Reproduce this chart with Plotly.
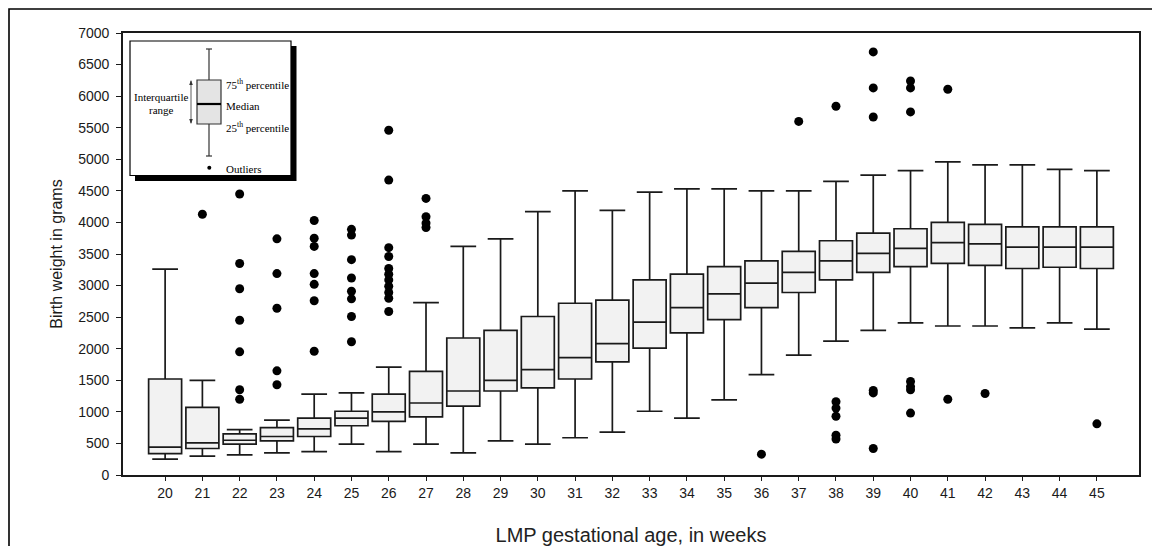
import plotly.graph_objects as go

# ---------------- data ----------------
weeks = list(range(20, 46))
lower_fence = [250, 300, 320, 350, 370, 490, 370, 490, 350, 540, 490, 590, 680,
               1010, 900, 1190, 1590, 1900, 2120, 2290, 2410, 2360, 2360, 2330, 2410, 2310]
q1 = [340, 420, 490, 540, 610, 780, 850, 920, 1090, 1330, 1380, 1520, 1790,
      2010, 2250, 2460, 2650, 2890, 3090, 3210, 3300, 3350, 3320, 3270, 3290, 3270]
median = [440, 510, 550, 610, 730, 900, 1000, 1140, 1330, 1500, 1670, 1860, 2080,
          2420, 2650, 2870, 3040, 3210, 3390, 3510, 3590, 3680, 3660, 3610, 3610, 3610]
q3 = [1520, 1070, 650, 750, 900, 1010, 1280, 1640, 2170, 2290, 2510, 2720, 2770,
      3090, 3180, 3300, 3390, 3540, 3710, 3830, 3900, 4000, 3970, 3930, 3930, 3930]
upper_fence = [3260, 1500, 720, 870, 1280, 1300, 1710, 2730, 3620, 3740, 4170, 4500, 4190,
               4480, 4530, 4530, 4500, 4500, 4650, 4750, 4820, 4960, 4910, 4910, 4840, 4820]

outlier_week = (
    [21]
    + [22] * 7
    + [23] * 5
    + [24] * 7
    + [25] * 8
    + [26] * 11
    + [27] * 4
    + [36, 37]
    + [38] * 6
    + [39] * 6
    + [40] * 7
    + [41] * 2
    + [42, 45]
)
outlier_weight = (
    [4130]
    + [4450, 3350, 2950, 2450, 1950, 1350, 1200]
    + [3740, 3190, 2640, 1650, 1430]
    + [4030, 3750, 3620, 3190, 3020, 2760, 1960]
    + [3890, 3800, 3410, 3120, 2910, 2790, 2510, 2110]
    + [5460, 4670, 3600, 3460, 3270, 3180, 3090, 2990, 2890, 2800, 2590]
    + [4380, 4090, 3990, 3920]
    + [330, 5600]
    + [5840, 1160, 1060, 930, 630, 570]
    + [6700, 6130, 5670, 1340, 1300, 420]
    + [6240, 6130, 5750, 1480, 1400, 1350, 980]
    + [6110, 1200]
    + [1290, 810]
)

y_ticks = list(range(0, 7001, 500))

# ---------------- layout geometry (window pixels) ----------------
WIN_W, WIN_H = 1160, 546
OFF = 8                      # default page body margin
W, H = WIN_W - OFF, WIN_H - OFF
L, R, T, B = 123, 1139, 33, 475   # plot area in window pixels
PW, PH = R - L, B - T


def xp(px):
    return (px - L) / PW


def yp(py):
    return (B - py) / PH


SANS = "Arial, Liberation Sans, sans-serif"
SERIF = "Times New Roman, Liberation Serif, serif"
INK = "#1a1a1a"

fig = go.Figure()

fig.add_trace(go.Box(
    x=weeks,
    q1=q1,
    median=median,
    q3=q3,
    lowerfence=lower_fence,
    upperfence=upper_fence,
    boxpoints=False,
    width=0.885,
    whiskerwidth=0.78,
    fillcolor="#f2f2f2",
    line=dict(color=INK, width=1.7),
    showlegend=False,
    hoverinfo="skip",
))

fig.add_trace(go.Scatter(
    x=outlier_week,
    y=outlier_weight,
    mode="markers",
    marker=dict(symbol="circle", size=9, color="black", line=dict(width=0)),
    showlegend=False,
    hoverinfo="skip",
))

shapes = []
# outer frame of the figure (right/bottom edges lie outside the view)
shapes.append(dict(type="rect", xref="paper", yref="paper",
                   x0=xp(9), x1=xp(1175), y0=yp(560), y1=yp(9),
                   line=dict(color="black", width=1.6), fillcolor="rgba(0,0,0,0)", layer="above"))
# inset key: shadow and frame
shapes.append(dict(type="rect", xref="paper", yref="paper",
                   x0=xp(135), x1=xp(296.5), y0=yp(181), y1=yp(46),
                   line=dict(width=0), fillcolor="black", layer="above"))
shapes.append(dict(type="rect", xref="paper", yref="paper",
                   x0=xp(130), x1=xp(291), y0=yp(175.5), y1=yp(41),
                   line=dict(color="black", width=1.2), fillcolor="white", layer="above"))
# inset key: whisker, caps, box, median
shapes.append(dict(type="line", xref="paper", yref="paper",
                   x0=xp(209), x1=xp(209), y0=yp(156), y1=yp(49),
                   line=dict(color="#333", width=1.2), layer="above"))
for cy in (49, 156):
    shapes.append(dict(type="line", xref="paper", yref="paper",
                       x0=xp(206), x1=xp(212), y0=yp(cy), y1=yp(cy),
                       line=dict(color="#333", width=1.2), layer="above"))
shapes.append(dict(type="rect", xref="paper", yref="paper",
                   x0=xp(197), x1=xp(221), y0=yp(124), y1=yp(80),
                   line=dict(color="#333", width=1.2), fillcolor="#e4e4e4", layer="above"))
shapes.append(dict(type="line", xref="paper", yref="paper",
                   x0=xp(197), x1=xp(221), y0=yp(104), y1=yp(104),
                   line=dict(color="black", width=2.2), layer="above"))
# interquartile double arrow
shapes.append(dict(type="line", xref="paper", yref="paper",
                   x0=xp(191), x1=xp(191), y0=yp(123), y1=yp(81),
                   line=dict(color="#333", width=0.8), layer="above"))


def tri(px, tip_y, base_y):
    return ("M {:.5f},{:.5f} L {:.5f},{:.5f} L {:.5f},{:.5f} Z".format(
        xp(px - 1.8), yp(base_y), xp(px), yp(tip_y), xp(px + 1.8), yp(base_y)))


shapes.append(dict(type="path", xref="paper", yref="paper", path=tri(191, 80, 85),
                   line=dict(width=0), fillcolor="#333", layer="above"))
shapes.append(dict(type="path", xref="paper", yref="paper", path=tri(191, 124, 119),
                   line=dict(width=0), fillcolor="#333", layer="above"))
shapes.append(dict(type="circle", xref="paper", yref="paper",
                   x0=xp(207.3), x1=xp(211.3), y0=yp(169.7), y1=yp(165.7),
                   line=dict(width=0), fillcolor="black", layer="above"))

annotations = []


def key_text(txt, px, py, anchor="left"):
    annotations.append(dict(xref="paper", yref="paper", x=xp(px), y=yp(py),
                            xanchor=anchor, yanchor="middle", text=txt,
                            showarrow=False, font=dict(family=SERIF, size=11, color="black")))


key_text("Interquartile", 161, 96.5, "center")
key_text("range", 161, 109.5, "center")
key_text("75<sup>th</sup> percentile", 224, 84)
key_text("Median", 224, 106.5)
key_text("25<sup>th</sup> percentile", 224, 127)
key_text("Outliers", 224, 169)

fig.update_layout(
    width=W, height=H,
    margin=dict(l=L - OFF, r=WIN_W - R, t=T - OFF, b=WIN_H - B, pad=0, autoexpand=False),
    paper_bgcolor="white",
    plot_bgcolor="white",
    font=dict(family=SANS, size=14, color=INK),
    shapes=shapes,
    annotations=annotations,
    showlegend=False,
)

fig.update_xaxes(
    range=[18.87, 46.13],
    automargin=False,
    tickmode="array", tickvals=weeks, ticktext=[str(w) for w in weeks],
    ticks="outside", ticklen=4, tickwidth=1, tickcolor=INK,
    ticklabelstandoff=0,
    showline=True, linecolor=INK, linewidth=1.6, mirror=True,
    showgrid=False, zeroline=False,
    tickfont=dict(family=SANS, size=14, color=INK),
    title=dict(text="LMP gestational age, in weeks", standoff=40,
               font=dict(family=SANS, size=20, color="#222")),
)
fig.update_yaxes(
    range=[0, 7000],
    automargin=False,
    tickmode="array", tickvals=y_ticks, ticktext=[str(v) for v in y_ticks],
    ticks="outside", ticklen=5, tickwidth=1, tickcolor=INK,
    ticklabelstandoff=4,
    showline=True, linecolor=INK, linewidth=1.6, mirror=True,
    showgrid=False, zeroline=False,
    tickfont=dict(family=SANS, size=14, color=INK),
    title=dict(text="Birth weight in grams", standoff=12,
               font=dict(family=SANS, size=16, color=INK)),
)

fig.write_html("out.html")
